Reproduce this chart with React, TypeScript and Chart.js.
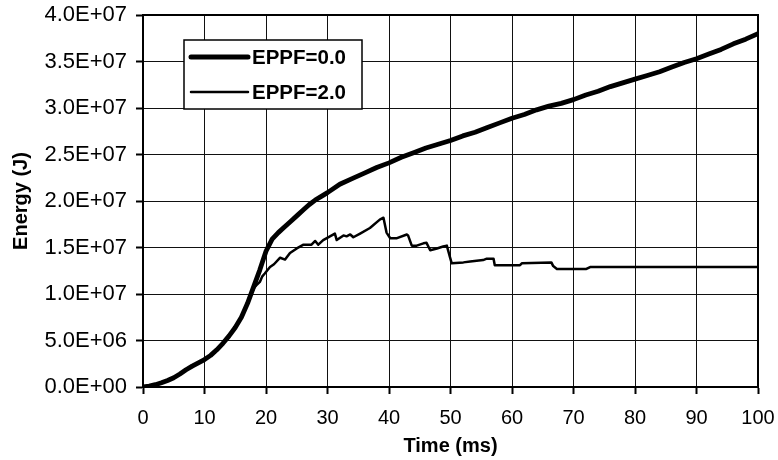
import React, { useEffect, useRef } from "react";
import { Chart, registerables } from "chart.js";

Chart.register(...registerables);

// EPPF=0.0 (thick line)
const timeThick = [0, 1, 2, 3, 4, 5, 6, 7, 8, 9, 10, 11, 12, 13, 14, 15, 16, 17, 18, 19, 20, 21, 22, 23, 24, 25, 26, 27, 28, 29, 30, 32, 34, 36, 38, 40, 42, 44, 46, 48, 50, 52, 54, 56, 58, 60, 62, 64, 66, 68, 70, 72, 74, 76, 78, 80, 82, 84, 86, 88, 90, 92, 94, 96, 98, 100];
const energyThick = [0, 0.1e6, 0.25e6, 0.45e6, 0.7e6, 1.0e6, 1.4e6, 1.85e6, 2.25e6, 2.6e6, 2.95e6, 3.4e6, 4.0e6, 4.7e6, 5.5e6, 6.4e6, 7.5e6, 9.0e6, 10.8e6, 12.6e6, 14.6e6, 15.9e6, 16.6e6, 17.2e6, 17.8e6, 18.4e6, 19.0e6, 19.6e6, 20.1e6, 20.5e6, 20.9e6, 21.8e6, 22.4e6, 23.0e6, 23.6e6, 24.1e6, 24.7e6, 25.2e6, 25.7e6, 26.1e6, 26.5e6, 27.0e6, 27.4e6, 27.9e6, 28.4e6, 28.9e6, 29.3e6, 29.8e6, 30.2e6, 30.5e6, 30.9e6, 31.4e6, 31.8e6, 32.3e6, 32.7e6, 33.1e6, 33.5e6, 33.9e6, 34.4e6, 34.9e6, 35.3e6, 35.8e6, 36.3e6, 36.9e6, 37.4e6, 38.0e6];

// EPPF=2.0 (thin line)
const timeThin = [0, 1, 2, 3, 4, 5, 6, 7, 8, 9, 10, 11, 12, 13, 14, 15, 16, 17, 18, 18.5, 19.0, 19.4, 19.8, 20.65, 21.3, 22.3, 23.1, 23.9, 25.0, 26.1, 27.4, 28.0, 28.5, 29.3, 30.4, 31.2, 31.5, 32.6, 33.1, 33.7, 34.2, 35.3, 36.9, 38.5, 39.1, 39.6, 40.2, 41.3, 42.9, 43.1, 43.7, 44.5, 45.6, 46.1, 46.7, 47.8, 48.8, 49.4, 49.9, 50.2, 52.1, 53.2, 55.3, 55.9, 57.0, 57.2, 61.3, 61.6, 66.4, 66.7, 67.3, 72.1, 72.7, 100];
const energyThin = [0, 0.1e6, 0.25e6, 0.45e6, 0.7e6, 1.0e6, 1.4e6, 1.85e6, 2.25e6, 2.6e6, 2.95e6, 3.4e6, 4.0e6, 4.7e6, 5.5e6, 6.4e6, 7.5e6, 9.0e6, 10.6e6, 11.0e6, 11.3e6, 11.9e6, 12.2e6, 12.9e6, 13.2e6, 13.9e6, 13.7e6, 14.4e6, 14.9e6, 15.3e6, 15.3e6, 15.7e6, 15.3e6, 15.8e6, 16.2e6, 16.5e6, 15.8e6, 16.3e6, 16.2e6, 16.4e6, 16.1e6, 16.5e6, 17.1e6, 18.0e6, 18.2e6, 16.6e6, 16.0e6, 16.0e6, 16.4e6, 16.3e6, 15.2e6, 15.2e6, 15.45e6, 15.5e6, 14.7e6, 14.9e6, 15.1e6, 15.2e6, 14.0e6, 13.3e6, 13.4e6, 13.5e6, 13.65e6, 13.8e6, 13.8e6, 13.1e6, 13.1e6, 13.3e6, 13.4e6, 13.0e6, 12.7e6, 12.7e6, 12.9e6, 12.9e6];

const seriesNames = ["EPPF=0.0", "EPPF=2.0"];
const yTickLabels = ["0.0E+00", "5.0E+06", "1.0E+07", "1.5E+07", "2.0E+07", "2.5E+07", "3.0E+07", "3.5E+07", "4.0E+07"];
const xTickLabels = ["0", "10", "20", "30", "40", "50", "60", "70", "80", "90", "100"];
const xTitle = "Time (ms)";
const yTitle = "Energy (J)";

const FONT = "'Liberation Sans', Arial, Helvetica, sans-serif";

const framePlugin = {
  id: "frameAndLegend",
  afterDraw(chart: any) {
    const { ctx, chartArea } = chart;
    ctx.save();
    // plot frame
    ctx.strokeStyle = "#000";
    ctx.lineWidth = 2;
    ctx.strokeRect(chartArea.left, chartArea.top, chartArea.right - chartArea.left, chartArea.bottom - chartArea.top);
    // legend box
    const lx = chartArea.left + 41;
    const ly = chartArea.top + 25;
    const lw = 178;
    const lh = 69;
    ctx.fillStyle = "#fff";
    ctx.fillRect(lx, ly, lw, lh);
    ctx.lineWidth = 1.5;
    ctx.strokeRect(lx, ly, lw, lh);
    const rows = [
      { y: ly + 17, w: 5 },
      { y: ly + 52, w: 2.5 },
    ];
    rows.forEach((r, i) => {
      ctx.beginPath();
      ctx.lineWidth = r.w;
      ctx.lineCap = "round";
      ctx.moveTo(lx + 7, r.y);
      ctx.lineTo(lx + 64, r.y);
      ctx.stroke();
      ctx.fillStyle = "#000";
      ctx.font = `bold 20.5px ${FONT}`;
      ctx.textBaseline = "middle";
      ctx.textAlign = "left";
      ctx.fillText(seriesNames[i], lx + 68, r.y + 1);
    });
    ctx.restore();
  },
};

export default function App() {
  const ref = useRef<HTMLCanvasElement>(null);
  useEffect(() => {
    if (!ref.current) return;
    const chart = new Chart(ref.current, {
      type: "line",
      data: {
        datasets: [
          {
            label: seriesNames[0],
            data: timeThick.map((t, i) => ({ x: t, y: energyThick[i] })),
            borderColor: "#000",
            borderWidth: 4.8,
            pointRadius: 0,
            tension: 0,
            borderJoinStyle: "round",
            borderCapStyle: "round",
          },
          {
            label: seriesNames[1],
            data: timeThin.map((t, i) => ({ x: t, y: energyThin[i] })),
            borderColor: "#000",
            borderWidth: 2.5,
            pointRadius: 0,
            tension: 0,
            borderJoinStyle: "round",
          },
        ],
      },
      options: {
        responsive: false,
        animation: false,
        devicePixelRatio: 1,
        layout: { padding: { top: 15, right: 20, left: 0, bottom: 0 } },
        plugins: { legend: { display: false }, tooltip: { enabled: false } },
        scales: {
          x: {
            type: "linear",
            min: 0,
            max: 100,
            afterFit: (s: any) => {
              s.height = 73;
              s.paddingLeft = 0;
              s.paddingRight = 0;
            },
            ticks: {
              stepSize: 10,
              color: "#000",
              font: { size: 20, family: FONT },
              padding: 12,
              maxRotation: 0,
              callback: (_v: any, i: number) => xTickLabels[i],
            },
            grid: { color: "#111", lineWidth: 1, tickLength: 7, tickWidth: 2, tickColor: "#000" },
            border: { color: "#000", width: 2 },
            title: { display: true, text: xTitle, color: "#000", font: { size: 20, weight: "bold", family: FONT }, padding: { top: 0, bottom: 2 } },
          },
          y: {
            type: "linear",
            min: 0,
            max: 4e7,
            afterFit: (s: any) => {
              s.width = 143;
              s.paddingTop = 0;
              s.paddingBottom = 0;
            },
            ticks: {
              stepSize: 5e6,
              color: "#000",
              font: { size: 22, family: FONT },
              padding: 9,
              callback: (_v: any, i: number) => yTickLabels[i],
            },
            grid: { color: "#111", lineWidth: 1, tickLength: 7, tickWidth: 2, tickColor: "#000" },
            border: { color: "#000", width: 2 },
            title: { display: true, text: yTitle, color: "#000", font: { size: 20, weight: "bold", family: FONT }, padding: { top: 9, bottom: 0 } },
          },
        },
      },
      plugins: [framePlugin],
    } as any);
    return () => chart.destroy();
  }, []);
  return (
    <div style={{ position: "fixed", left: 0, top: 0, width: 778, height: 460, background: "#fff" }}>
      <canvas ref={ref} width={778} height={460} />
    </div>
  );
}
